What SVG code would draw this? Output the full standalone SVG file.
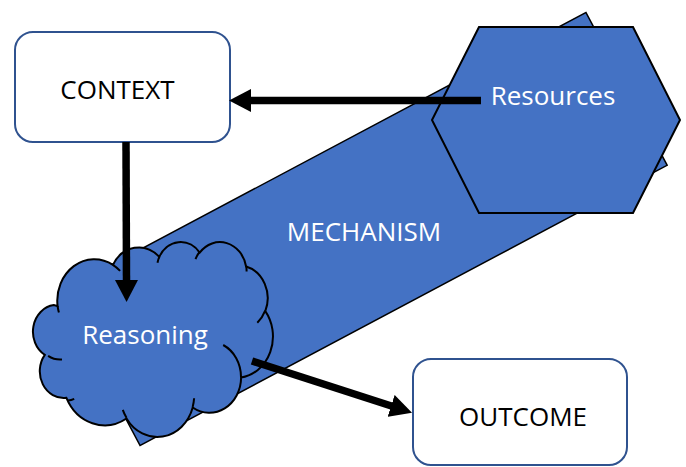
<svg xmlns="http://www.w3.org/2000/svg" width="686" height="467" viewBox="0 0 686 467">
<style>
.box{fill:#ffffff;stroke:#2F528F;stroke-width:2}
.shape{fill:#4472C4;stroke:#000000;stroke-width:2;stroke-linejoin:miter}
.inner{fill:none;stroke:#000000;stroke-width:2}
.lbl{font-family:"Open Sans","Noto Sans",sans-serif;font-size:26px;text-anchor:middle}
.dark{fill:#000000}
.light{fill:#ffffff}
.conn{stroke:#000000;stroke-width:7.5;fill:none;marker-end:url(#ah)}
</style>
<defs>
<marker id="ah" markerUnits="userSpaceOnUse" markerWidth="22" markerHeight="23" viewBox="0 0 22 23" refX="2" refY="11.5" orient="auto">
<path d="M0,0 L22,11.5 L0,23 Z" fill="#000000"/>
</marker>
</defs>
<rect width="686" height="467" fill="#ffffff"/>
<g id="mechanism">
<rect class="shape" transform="translate(363,229) rotate(-28)" x="-298.5" y="-86.5" width="597" height="173" style="stroke-width:1.5"/>
<text class="lbl light" x="364" y="241">MECHANISM</text>
</g>
<g id="resources">
<polygon class="shape" points="479,27 633,27 680,120 633,213 479,213 432,120"/>
<text class="lbl light" x="553" y="105">Resources</text>
</g>
<g id="context">
<rect class="box" x="15" y="32" width="215" height="110" rx="18" ry="18"/>
<text class="lbl dark" x="117.5" y="99">CONTEXT</text>
</g>
<g id="outcome">
<rect class="box" x="413" y="359" width="214" height="106" rx="18" ry="18"/>
<text class="lbl dark" x="523" y="426">OUTCOME</text>
</g>
<g id="reasoning">
<path class="shape" d="M57.6,306.2 A37.0,41.5 0 0 1 113.0,264.9 A29.2,32.8 0 0 1 159.3,256.9 A23.9,26.8 0 0 1 199.7,252.6 A26.6,29.8 0 0 1 246.1,266.5 A29.2,32.8 0 0 1 265.3,311.1 A37.1,41.6 0 0 1 241.1,377.6 A31.7,35.5 0 0 1 192.7,407.5 A37.0,41.6 0 0 1 126.5,418.5 A42.3,47.6 0 0 1 66.4,397.8 A23.9,26.7 0 0 1 44.8,354.9 A23.8,26.8 0 0 1 53.9,305.1 Z"/>
<path class="inner" d="M62.0,359.5 A23.8,26.8 0 0 1 48.1,355.9 M74.2,398.8 A23.9,26.7 0 0 1 68.1,400.6 M126.5,417.8 A37.0,41.6 0 0 1 122.8,409.9 M194.1,398.2 A37.0,41.6 0 0 1 192.7,406.8 M223.2,345.0 A31.7,35.5 0 0 1 241.0,377.1 M265.2,310.7 A29.2,32.8 0 0 1 257.3,322.7 M246.2,265.9 A26.6,29.8 0 0 1 246.6,271.6 M195.5,259.2 A26.6,29.8 0 0 1 199.6,251.9 M157.5,262.7 A23.9,26.8 0 0 1 159.5,256.4 M112.9,264.8 A37.0,41.5 0 0 1 120.1,270.9 M58.9,312.6 A37.0,41.5 0 0 1 57.6,306.2"/>
<text class="lbl light" x="145" y="344">Reasoning</text>
</g>
<g id="connectors">
<line class="conn" x1="481" y1="100.5" x2="249" y2="100.5"/>
<line class="conn" x1="126" y1="142" x2="126.5" y2="282"/>
<line class="conn" x1="252" y1="361" x2="393" y2="406.5"/>
</g>
</svg>
